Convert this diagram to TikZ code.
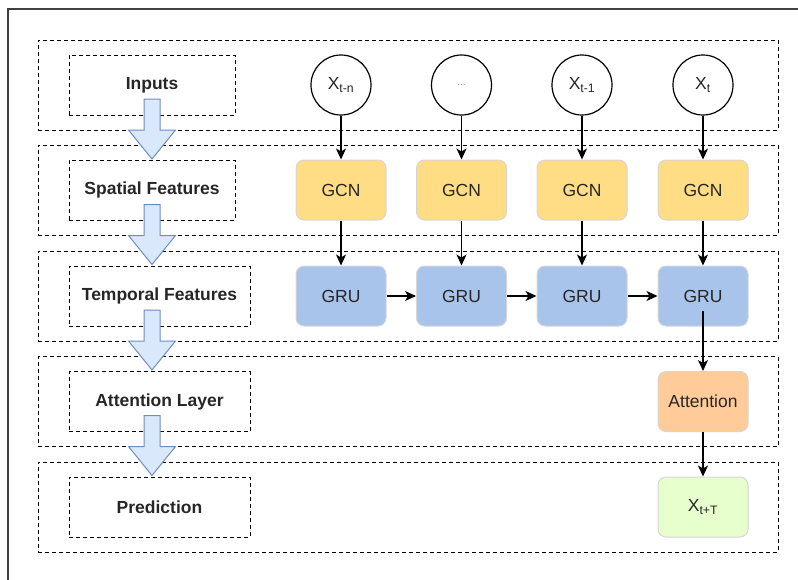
\documentclass[tikz,border=0pt]{standalone}
\usepackage{fontspec}
\setmainfont{Liberation Sans}
\usetikzlibrary{arrows.meta}
\definecolor{gcngelb}{RGB}{255,221,133}
\definecolor{grublau}{RGB}{169,196,235}
\definecolor{attorange}{RGB}{255,204,153}
\definecolor{predgruen}{RGB}{230,255,204}
\definecolor{pfeilblau}{RGB}{218,232,252}
\definecolor{pfeilrand}{RGB}{108,142,191}
\definecolor{kastenrand}{RGB}{214,214,214}
\definecolor{rahmengrau}{RGB}{64,64,64}
\definecolor{textgrau}{RGB}{38,38,38}

\begin{document}
\begin{tikzpicture}[x=1pt, y=-1pt, >={Stealth[length=11pt,width=10pt,inset=3pt]},
		font=\fontsize{17.5}{21}\selectfont, text=textgrau,
		ebene/.style={draw=black, dash pattern=on 4pt off 3pt, line width=1pt, minimum width=740pt, minimum height=90pt, inner sep=0pt},
		beschriftung/.style={draw=black, dash pattern=on 4pt off 3pt, line width=1pt, minimum height=60pt, inner sep=0pt, font=\fontsize{17.5}{21}\selectfont\bfseries},
		eingang/.style={draw=black, circle, line width=1.2pt, minimum size=60pt, inner sep=0pt},
		block/.style={draw=kastenrand, rounded corners=8pt, line width=1pt, minimum width=90pt, minimum height=60pt, inner sep=0pt},
		verbindung/.style={->, line width=1.2pt},
		blockpfeil/.style={draw=pfeilrand, fill=pfeilblau, line width=1pt, line join=miter}]
	%Rahmen
	\useasboundingbox (0,0) rectangle (798,579);
	\draw[rahmengrau, line width=1.5pt] (8,590) -- (8,9) -- (810,9);
	% Ebenen
	\foreach \n/\y in {1/85,2/190,3/296,4/401.5,5/507}
		\node[ebene] (ebene\n) at (408,\y) {};
	% Beschriftungen links
	\node[beschriftung, minimum width=166pt] (inputs) at (152,85) {Inputs};
	\node[beschriftung, minimum width=166pt] (spatial) at (152,190) {Spatial Features};
	\node[beschriftung, minimum width=181pt] (temporal) at (159.5,296) {Temporal Features};
	\node[beschriftung, minimum width=181pt] (attlayer) at (159.5,401.5) {Attention Layer};
	\node[beschriftung, minimum width=181pt] (prediction) at (159.5,507) {Prediction};
	% Eingaenge, GCN und GRU
	\foreach \i/\x/\t in {1/341/X\textsubscript{t-n}, 2/461.5/{\fontsize{10}{12}\selectfont\color{gray}...}, 3/582/X\textsubscript{t-1}, 4/703/X\textsubscript{t}} {
		\node[eingang] (x\i) at (\x,85) {\t};
		\node[block, fill=gcngelb] (gcn\i) at (\x,190) {GCN};
		\node[block, fill=grublau] (gru\i) at (\x,296) {GRU};
		\draw[verbindung] (x\i) -- (gcn\i);
		\draw[verbindung] (gcn\i) -- (gru\i);
	}
	\foreach \i [count=\j from 2] in {1,2,3} \draw[verbindung] (gru\i) -- (gru\j);
	% Attention und Vorhersage
	\node[block, fill=attorange] (att) at (703,401.5) {Attention};
	\node[block, fill=predgruen] (pred) at (703,507) {X\textsubscript{t+T}};
	\draw[verbindung] ([yshift=-15pt]gru4.center) -- (att);
	\draw[verbindung] (att) -- (pred);
	% Blockpfeile zwischen den Ebenen
	\foreach \y in {99,204.5,310,415.5}
		\draw[blockpfeil] (144,\y) -- (160,\y) -- (160,\y+31) -- (175.5,\y+31) -- (152,\y+60) -- (128.5,\y+31) -- (144,\y+31) -- cycle;
\end{tikzpicture}
\end{document}
